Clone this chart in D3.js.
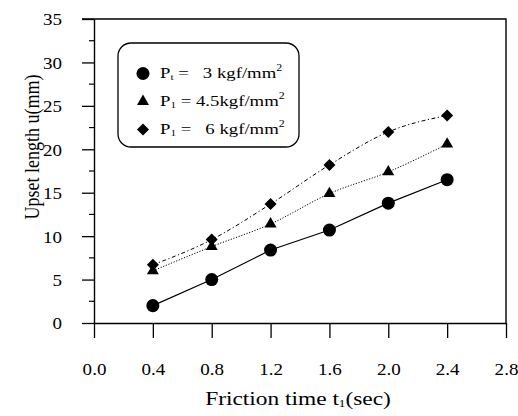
<!DOCTYPE html>
<html>
<head>
<meta charset="utf-8">
<script src="https://cdn.jsdelivr.net/npm/d3@7/dist/d3.min.js"></script>
<style>
  body { margin: 0; background: #fff; }
  svg { display: block; }
  svg text { fill: #000; }
</style>
</head>
<body>
<div id="svg-container"></div>
<script>
const serif = "'Liberation Serif', 'DejaVu Serif', serif";
const stretch = 1.12; // text in the scan is a bit wider than plain Times

// data
const times = [0.4, 0.8, 1.2, 1.6, 2.0, 2.4];
const p3 = [2.0, 5.0, 8.4, 10.7, 13.8, 16.5];
const p45 = [6.0, 8.8, 11.4, 14.9, 17.4, 20.6];
const p6 = [6.7, 9.6, 13.7, 18.2, 22.0, 23.9];
const xTicks = [0.0, 0.4, 0.8, 1.2, 1.6, 2.0, 2.4, 2.8];
const yTicks = [0, 5, 10, 15, 20, 25, 30, 35];
const yMinor = d3.range(0, 35.1, 2.5);

// diamond drawn as a rotated square
const symDiamond = {
  draw(ctx, size) {
    const r = Math.sqrt(size / 2);
    ctx.moveTo(0, -r);
    ctx.lineTo(r, 0);
    ctx.lineTo(0, r);
    ctx.lineTo(-r, 0);
    ctx.closePath();
  }
};

const series = [
  { sub: "t", label: " =   3 kgf/mm", values: p3, symbol: d3.symbolCircle, size: 133, dash: null, curve: d3.curveLinear },
  { sub: "1", label: " = 4.5kgf/mm", values: p45, symbol: d3.symbolTriangle, size: 62, dash: "1.2,1.6", curve: d3.curveMonotoneX },
  { sub: "1", label: " =   6 kgf/mm", values: p6, symbol: symDiamond, size: 72, dash: "4,2.5,1.2,2.5", curve: d3.curveMonotoneX }
];

const width = 518, height = 416;
const margin = { top: 19, right: 12, bottom: 93, left: 94 };

const svg = d3.select("#svg-container").append("svg")
  .attr("width", width).attr("height", height)
  .attr("font-family", serif);

const xScale = d3.scaleLinear().domain([0, 2.8]).range([margin.left, width - margin.right]);
const yScale = d3.scaleLinear().domain([0, 35]).range([height - margin.bottom, margin.top]);

// frame (top + right)
svg.append("path")
  .attr("d", `M${margin.left - 12},${yScale(35)}H${xScale(2.8)}V${yScale(0)}`)
  .attr("fill", "none").attr("stroke", "#000").attr("stroke-width", 1.4);

// x axis
const xAxis = d3.axisBottom(xScale).tickValues(xTicks)
  .tickFormat(d3.format(".1f")).tickSizeInner(15).tickSizeOuter(0).tickPadding(25);
const gx = svg.append("g")
  .attr("class", "x-axis")
  .attr("transform", `translate(0, ${yScale(0)})`)
  .call(xAxis)
  .attr("font-family", serif).attr("font-size", 17);
gx.selectAll(".tick text").attr("transform", `scale(${stretch},1)`);

// y axis
const yAxis = d3.axisLeft(yScale).tickValues(yTicks)
  .tickSizeInner(12).tickSizeOuter(0).tickPadding(20);
const gy = svg.append("g")
  .attr("class", "y-axis")
  .attr("transform", `translate(${margin.left}, 0)`)
  .call(yAxis)
  .attr("font-family", serif).attr("font-size", 17);
gy.selectAll(".tick text")
  .attr("dy", "0.35em")
  .attr("x", -32 / stretch)
  .attr("transform", `scale(${stretch},1)`);

svg.append("g")
  .selectAll("line")
  .data(yMinor.filter((d) => !yTicks.includes(d)))
  .enter()
  .append("line")
  .attr("x1", margin.left - 5).attr("x2", margin.left)
  .attr("y1", (d) => yScale(d)).attr("y2", (d) => yScale(d))
  .attr("stroke", "#000").attr("stroke-width", 1.2);

svg.selectAll(".domain").attr("stroke-width", 1.4);
svg.selectAll(".tick line").attr("stroke-width", 1.3);

// lines
const line = (s) => d3.line()
  .x((d, i) => xScale(times[i]))
  .y((d) => yScale(d))
  .curve(s.curve);

series.forEach((s) => {
  svg.append("path")
    .datum(s.values)
    .attr("d", line(s))
    .attr("fill", "none")
    .attr("stroke", "#000")
    .attr("stroke-width", s.dash ? 1 : 1.2)
    .attr("stroke-dasharray", s.dash);

  svg.append("g")
    .selectAll("path")
    .data(s.values)
    .enter()
    .append("path")
    .attr("transform", (d, i) => `translate(${xScale(times[i])}, ${yScale(d)})`)
    .attr("d", d3.symbol().type(s.symbol).size(s.size))
    .attr("fill", "#000");
});

// legend
const legend = svg.append("g").attr("transform", "translate(118, 43)");
legend.append("rect")
  .attr("width", 181).attr("height", 104)
  .attr("rx", 13).attr("ry", 13)
  .attr("fill", "#fff").attr("stroke", "#000").attr("stroke-width", 1.3);

series.forEach((s, i) => {
  const y = 30.5 + 28 * i;
  legend.append("path")
    .attr("transform", `translate(25, ${y})`)
    .attr("d", d3.symbol().type(s.symbol).size(s.size))
    .attr("fill", "#000");
  const t = legend.append("text")
    .attr("transform", `translate(42, ${y + 4}) scale(1.25,1)`)
    .attr("font-size", 15)
    .attr("xml:space", "preserve");
  t.append("tspan").text("P");
  t.append("tspan").attr("font-size", 9).attr("dy", 2).text(s.sub);
  t.append("tspan").attr("dy", -2).text(s.label);
  t.append("tspan").attr("font-size", 9.5).attr("dy", -7).text("2");
});

// axis titles
const xt = svg.append("text")
  .attr("text-anchor", "middle")
  .attr("font-size", 19.5)
  .attr("transform", `translate(298, 405) scale(1.2,1)`);
xt.append("tspan").text("Friction time t");
xt.append("tspan").attr("font-size", 11).attr("dy", 2).text("1");
xt.append("tspan").attr("dy", -2).text("(sec)");

svg.append("text")
  .attr("text-anchor", "middle")
  .attr("font-size", 18)
  .attr("transform", `translate(39, 147) scale(1.15,1) rotate(-90)`)
  .text("Upset length u(mm)");
</script>
</body>
</html>
